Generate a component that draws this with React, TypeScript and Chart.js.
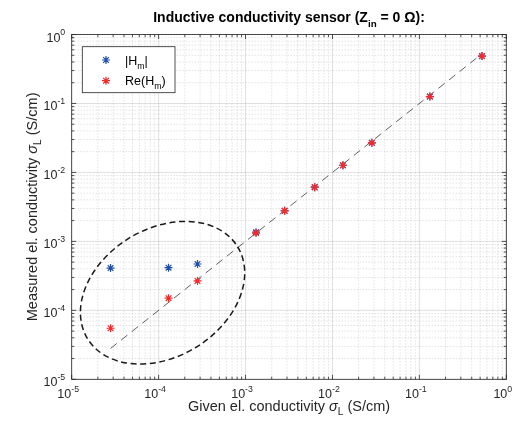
import React, { useEffect, useRef } from "react";
import { Chart, registerables } from "chart.js";

Chart.register(...registerables);

// ---- data ----
const givenSigma = [2.8e-5, 1.3e-4, 2.8e-4, 1.32e-3, 2.82e-3, 6.25e-3, 0.0132, 0.0284, 0.132, 0.525];
const absHm = [4.1e-4, 4.15e-4, 4.7e-4, 1.36e-3, 2.78e-3, 6.1e-3, 0.0127, 0.0269, 0.126, 0.486];
const reHm = [5.5e-5, 1.5e-4, 2.67e-4, 1.32e-3, 2.77e-3, 6.1e-3, 0.0127, 0.0269, 0.126, 0.486];
const refLineX = [2.8e-5, 0.5];
const decadeTicks = [1e-5, 1e-4, 1e-3, 1e-2, 1e-1, 1];
const decadeExponents = ["-5", "-4", "-3", "-2", "-1", "0"];
const ellipseCenter = { x: 1.11e-4, y: 1.8e-4 };

const FONT = "'Liberation Sans', Arial, Helvetica, sans-serif";
const AXC = "#262626";
const BLUE = "#1f4fa6";
const RED = "#f52a2a";

type Seg = { t: string; s?: "sub" | "sup"; i?: boolean };

function drawRich(
  ctx: CanvasRenderingContext2D,
  segs: Seg[],
  x: number,
  y: number,
  size: number,
  align: "left" | "center" | "right",
  bold = false,
  color = AXC
) {
  const small = size * 0.7;
  const fontFor = (s: Seg) =>
    `${s.i ? "italic " : ""}${bold ? "bold " : ""}${s.s ? small : size}px ${FONT}`;
  let total = 0;
  const widths = segs.map((s) => {
    ctx.font = fontFor(s);
    const w = ctx.measureText(s.t).width;
    total += w;
    return w;
  });
  let cx = align === "left" ? x : align === "center" ? x - total / 2 : x - total;
  ctx.fillStyle = color;
  ctx.textBaseline = "alphabetic";
  ctx.textAlign = "left";
  segs.forEach((s, k) => {
    ctx.font = fontFor(s);
    const dy = s.s === "sup" ? -size * 0.5 : s.s === "sub" ? size * 0.33 : 0;
    ctx.fillText(s.t, cx, y + dy);
    cx += widths[k];
  });
}

function drawStar(ctx: CanvasRenderingContext2D, x: number, y: number, r: number, color: string) {
  ctx.save();
  ctx.strokeStyle = color;
  ctx.lineWidth = 1.2;
  ctx.beginPath();
  ctx.moveTo(x - r, y);
  ctx.lineTo(x + r, y);
  ctx.moveTo(x, y - r);
  ctx.lineTo(x, y + r);
  const d = r * 0.7071;
  ctx.moveTo(x - d, y - d);
  ctx.lineTo(x + d, y + d);
  ctx.moveTo(x - d, y + d);
  ctx.lineTo(x + d, y - d);
  ctx.stroke();
  ctx.restore();
}

const minorValues: number[] = [];
for (let e = -5; e < 0; e++) {
  for (let m = 2; m <= 9; m++) minorValues.push(m * Math.pow(10, e));
}

const decorPlugin = {
  id: "decor",
  beforeDatasetsDraw(chart: any) {
    const ctx: CanvasRenderingContext2D = chart.ctx;
    const { left, right, top, bottom } = chart.chartArea;
    const xs = chart.scales.x;
    const ys = chart.scales.y;
    ctx.save();
    // minor grid (dotted)
    ctx.strokeStyle = "rgba(0,0,0,0.22)";
    ctx.lineWidth = 0.8;
    ctx.setLineDash([1, 2]);
    ctx.beginPath();
    minorValues.forEach((v) => {
      const px = xs.getPixelForValue(v);
      ctx.moveTo(px, top);
      ctx.lineTo(px, bottom);
      const py = ys.getPixelForValue(v);
      ctx.moveTo(left, py);
      ctx.lineTo(right, py);
    });
    ctx.stroke();
    // major grid
    ctx.setLineDash([]);
    ctx.strokeStyle = "rgba(38,38,38,0.14)";
    ctx.lineWidth = 1;
    ctx.beginPath();
    decadeTicks.forEach((v) => {
      const px = xs.getPixelForValue(v);
      ctx.moveTo(px, top);
      ctx.lineTo(px, bottom);
      const py = ys.getPixelForValue(v);
      ctx.moveTo(left, py);
      ctx.lineTo(right, py);
    });
    ctx.stroke();
    ctx.restore();
  },
  afterDatasetsDraw(chart: any) {
    const ctx: CanvasRenderingContext2D = chart.ctx;
    const xs = chart.scales.x;
    const ys = chart.scales.y;
    // dashed ellipse annotation
    const cx = xs.getPixelForValue(ellipseCenter.x);
    const cy = ys.getPixelForValue(ellipseCenter.y);
    ctx.save();
    ctx.strokeStyle = "#1a1a1a";
    ctx.lineWidth = 1.5;
    ctx.setLineDash([6, 3.6]);
    ctx.beginPath();
    ctx.ellipse(cx, cy, 88, 64, (-31.5 * Math.PI) / 180, 0, Math.PI * 2);
    ctx.stroke();
    ctx.restore();
  },
  afterDraw(chart: any) {
    const ctx: CanvasRenderingContext2D = chart.ctx;
    const { left, right, top, bottom } = chart.chartArea;
    const xs = chart.scales.x;
    const ys = chart.scales.y;
    ctx.save();
    // ticks
    ctx.strokeStyle = AXC;
    ctx.lineWidth = 0.8;
    ctx.beginPath();
    const tick = (v: number, len: number) => {
      const px = xs.getPixelForValue(v);
      ctx.moveTo(px, bottom);
      ctx.lineTo(px, bottom - len);
      ctx.moveTo(px, top);
      ctx.lineTo(px, top + len);
      const py = ys.getPixelForValue(v);
      ctx.moveTo(left, py);
      ctx.lineTo(left + len, py);
      ctx.moveTo(right, py);
      ctx.lineTo(right - len, py);
    };
    minorValues.forEach((v) => tick(v, 2.6));
    decadeTicks.forEach((v) => tick(v, 4.5));
    ctx.stroke();
    // box
    ctx.strokeRect(left, top, right - left, bottom - top);

    // tick labels
    decadeTicks.forEach((v, k) => {
      const px = xs.getPixelForValue(v);
      drawRich(ctx, [{ t: "10" }, { t: decadeExponents[k], s: "sup" }], px - 3.5, bottom + 18.5, 12.5, "center");
      const py = ys.getPixelForValue(v);
      drawRich(ctx, [{ t: "10" }, { t: decadeExponents[k], s: "sup" }], left - 6.5, py + 7, 12.5, "right");
    });

    // title
    drawRich(
      ctx,
      [{ t: "Inductive conductivity sensor (Z" }, { t: "in", s: "sub" }, { t: " = 0 Ω):" }],
      (left + right) / 2,
      22,
      14,
      "center",
      true,
      "#000"
    );

    // x label
    drawRich(
      ctx,
      [{ t: "Given el. conductivity " }, { t: "σ", i: true }, { t: "L", s: "sub" }, { t: " (S/cm)" }],
      (left + right) / 2,
      410.5,
      14.5,
      "center"
    );

    // y label
    ctx.save();
    ctx.translate(36.7, (top + bottom) / 2);
    ctx.rotate(-Math.PI / 2);
    drawRich(
      ctx,
      [{ t: "Measured el. conductivity " }, { t: "σ", i: true }, { t: "L", s: "sub" }, { t: " (S/cm)" }],
      0,
      0,
      14.5,
      "center"
    );
    ctx.restore();

    // legend
    const lx = 82.3, ly = 46.7, lw = 92.7, lh = 46;
    ctx.fillStyle = "#fff";
    ctx.fillRect(lx, ly, lw, lh);
    ctx.strokeStyle = AXC;
    ctx.lineWidth = 0.8;
    ctx.strokeRect(lx, ly, lw, lh);
    drawStar(ctx, 106, 60, 4, BLUE);
    drawStar(ctx, 106, 80.7, 4, RED);
    drawRich(ctx, [{ t: "|H" }, { t: "m", s: "sub" }, { t: "|" }], 125, 64.5, 12.5, "left", false, "#000");
    drawRich(ctx, [{ t: "Re(H" }, { t: "m", s: "sub" }, { t: ")" }], 125, 85, 12.5, "left", false, "#000");
    ctx.restore();
  },
};

export default function App() {
  const ref = useRef<HTMLCanvasElement | null>(null);
  useEffect(() => {
    if (!ref.current) return;
    const chart = new Chart(ref.current, {
      type: "scatter",
      data: {
        datasets: [
          {
            label: "Re(H_m)",
            data: givenSigma.map((x, i) => ({ x, y: reHm[i] })),
            pointStyle: "star",
            pointRadius: 4,
            borderColor: RED,
            backgroundColor: RED,
            borderWidth: 1.2,
            order: 1,
          },
          {
            label: "|H_m|",
            data: givenSigma.map((x, i) => ({ x, y: absHm[i] })),
            pointStyle: "star",
            pointRadius: 4,
            borderColor: BLUE,
            backgroundColor: BLUE,
            borderWidth: 1.2,
            order: 2,
          },
          {
            type: "line",
            label: "ref",
            data: refLineX.map((x) => ({ x, y: x })),
            borderColor: "#3a3a3a",
            borderWidth: 0.8,
            borderDash: [8, 5.5],
            pointRadius: 0,
            fill: false,
            showLine: true,
            order: 3,
          } as any,
        ],
      },
      options: {
        animation: false,
        responsive: false,
        devicePixelRatio: 1,
        layout: { padding: { left: 71.7, top: 34.5, right: 12.7, bottom: 48.7 } },
        plugins: { legend: { display: false }, tooltip: { enabled: false }, title: { display: false } },
        scales: {
          x: { type: "logarithmic", min: 1e-5, max: 1, display: false },
          y: { type: "logarithmic", min: 1e-5, max: 1, display: false },
        },
      },
      plugins: [decorPlugin],
    });
    return () => chart.destroy();
  }, []);
  return (
    <div style={{ position: "absolute", left: 0, top: 0, width: 519, height: 428, background: "#fff" }}>
      <canvas ref={ref} width={519} height={428} style={{ display: "block" }} />
    </div>
  );
}
